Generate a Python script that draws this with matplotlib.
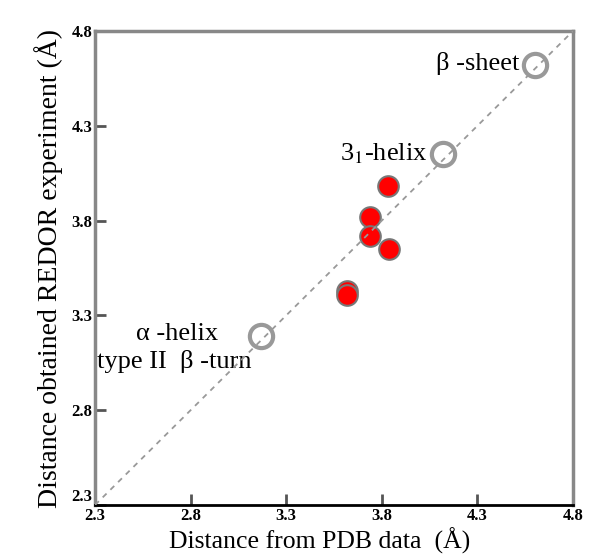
import matplotlib.pyplot as plt

# reference structures (open gray circles)
ref_names = ["β -sheet", "3$_1$-helix", "α -helix"]
ref_pdb = [4.60, 4.12, 3.17]
ref_redor = [4.62, 4.15, 3.19]

# measured samples (red dots)
pdb_x = [3.83, 3.74, 3.74, 3.84, 3.62, 3.62]
redor_y = [3.98, 3.82, 3.72, 3.65, 3.43, 3.41]

ticks = [2.3, 2.8, 3.3, 3.8, 4.3, 4.8]

plt.rcParams['font.family'] = ['Liberation Serif', 'DejaVu Serif']
plt.rcParams['mathtext.fontset'] = 'stix'

fig = plt.figure(figsize=(5.89, 5.6), dpi=100)
ax = fig.add_axes([0.1613, 0.0982, 0.8115, 0.8464])

ax.scatter(pdb_x, redor_y, s=220, color='#ff0000', edgecolors='#777777',
           linewidths=1.5, zorder=3)
ax.scatter(ref_pdb, ref_redor, s=280, facecolors='white', edgecolors='#999999',
           linewidths=3, zorder=2)
ax.plot([2.3, 4.8], [2.3, 4.8], ls=(0, (3, 3)), color='#999999', lw=1.3, zorder=4)

ax.text(4.52, 4.63, ref_names[0], ha='right', va='center', fontsize=19)
ax.text(4.04, 4.155, ref_names[1], ha='right', va='center', fontsize=19)
ax.text(2.73, 3.2, ref_names[2], ha='center', va='center', fontsize=19)
ax.text(2.31, 3.055, "type II  β -turn", ha='left', va='center', fontsize=19)

ax.set_xlim(2.3, 4.8)
ax.set_ylim(2.3, 4.8)
ax.set_xticks(ticks)
ax.set_yticks(ticks)
ax.set_xticklabels([f"{t:.1f}" for t in ticks])
ax.set_yticklabels([f"{t:.1f}" for t in ticks])
ax.tick_params(direction='in', length=8, width=2, color='#555555',
               labelsize=12, pad=2)
for lab in ax.get_xticklabels() + ax.get_yticklabels():
    lab.set_fontweight('bold')
# lowest y label sits a bit higher so it clears the x label
ax.get_yticklabels()[0].set_verticalalignment('bottom')

for side in ['left', 'top', 'right']:
    ax.spines[side].set_color('#888888')
    ax.spines[side].set_linewidth(2.5)
ax.spines['bottom'].set_color('black')
ax.spines['bottom'].set_linewidth(2)

ax.set_xlabel("Distance from PDB data  (Å)", fontsize=18.5, labelpad=3, x=0.47)
ax.set_ylabel("Distance obtained REDOR experiment (Å)", fontsize=20, labelpad=6)

fig.savefig("out.png", dpi=100)
